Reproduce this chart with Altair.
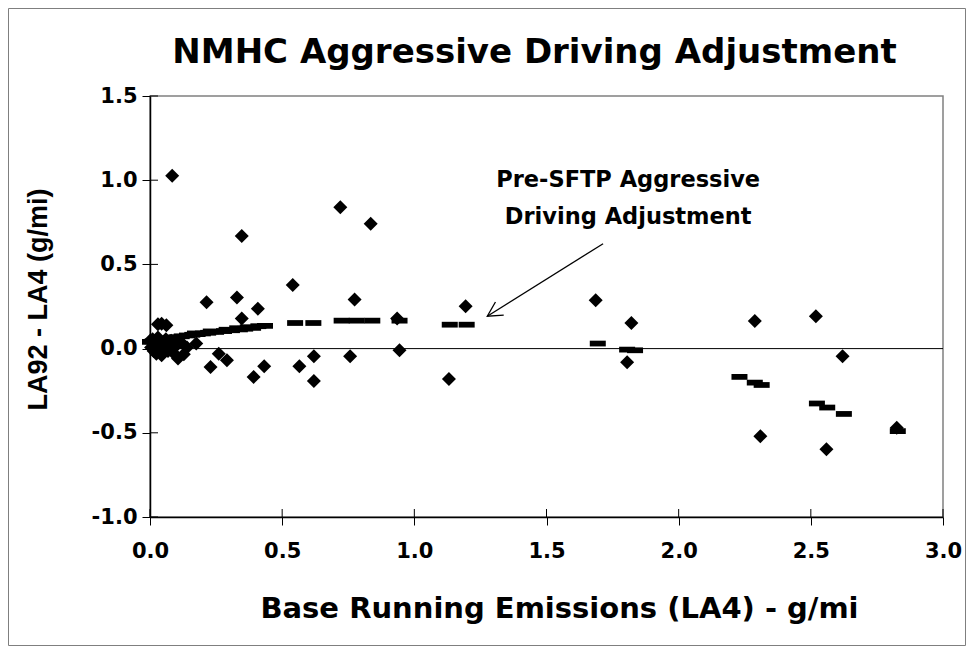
import altair as alt
import pandas as pd

# ---- data ----
# individual vehicle measurements (diamonds)
veh_x = [0.000, 0.004, 0.010, 0.014, 0.020, 0.024, 0.030, 0.034, 0.040, 0.044,
         0.050, 0.054, 0.060, 0.068, 0.074, 0.080, 0.088, 0.098, 0.106, 0.118,
         0.128, 0.140, 0.030, 0.044, 0.062,
         0.084, 0.347, 0.720, 0.835, 0.540, 0.214, 0.329, 0.408, 0.347, 0.774,
         0.935, 0.175, 0.260, 0.291, 0.229, 0.392, 0.432, 0.565, 0.620, 0.620,
         0.757, 0.944, 1.194, 1.131, 1.686, 1.821, 1.805, 2.288, 2.519, 2.620,
         2.309, 2.559, 2.825]
veh_y = [0.046, 0.006, 0.056, -0.014, 0.026, -0.030, 0.066, 0.016, -0.004, -0.040,
         0.036, 0.006, 0.056, -0.014, 0.026, 0.046, -0.024, 0.016, -0.059, 0.036,
         -0.034, 0.006, 0.144, 0.148, 0.138,
         1.026, 0.668, 0.840, 0.741, 0.378, 0.275, 0.303, 0.237, 0.178, 0.291,
         0.178, 0.030, -0.030, -0.069, -0.109, -0.168, -0.105, -0.105, -0.046, -0.192,
         -0.046, -0.010, 0.251, -0.180, 0.287, 0.152, -0.081, 0.164, 0.192, -0.046,
         -0.520, -0.597, -0.470]

# Pre-SFTP aggressive driving adjustment (dashes)
adj_x = [0.000, 0.010, 0.020, 0.030, 0.040, 0.050, 0.060, 0.080, 0.100, 0.120,
         0.140, 0.160, 0.170, 0.180, 0.200, 0.220, 0.230, 0.250, 0.280, 0.290,
         0.310, 0.330, 0.340, 0.360, 0.370, 0.390, 0.410, 0.435,
         0.549, 0.618, 0.725, 0.782, 0.841, 0.944, 1.134, 1.198,
         1.694, 1.805, 1.835, 2.230, 2.288, 2.314, 2.523, 2.562, 2.625, 2.829]
adj_y = [0.040, 0.043, 0.046, 0.049, 0.052, 0.055, 0.058, 0.063, 0.068, 0.073,
         0.078, 0.082, 0.090, 0.086, 0.090, 0.094, 0.102, 0.099, 0.104, 0.112,
         0.109, 0.121, 0.114, 0.118, 0.127, 0.123, 0.133, 0.135,
         0.152, 0.152, 0.166, 0.166, 0.166, 0.166, 0.142, 0.142,
         0.030, -0.006, -0.010, -0.168, -0.202, -0.216, -0.326, -0.350, -0.388, -0.490]

x_ticks = [0.0, 0.5, 1.0, 1.5, 2.0, 2.5, 3.0]
y_ticks = [-1.0, -0.5, 0.0, 0.5, 1.0, 1.5]

title_text = "NMHC Aggressive Driving Adjustment"
x_title = "Base Running Emissions (LA4) - g/mi"
y_title = "LA92 - LA4 (g/mi)"
note_lines = ["Pre-SFTP Aggressive", "Driving Adjustment"]
note_x = [1.809, 1.809]
note_y = [0.958, 0.741]
arrow = {"x": [1.714], "y": [0.623], "x2": [1.276], "y2": [0.192]}

# ---- chart ----
W, H = 793, 421
PAD = {"left": 142, "top": 88, "right": 23, "bottom": 129}
BIG = "DejaVu Sans"

x_scale = alt.Scale(domain=[0, 3], nice=False, zero=False)
y_scale = alt.Scale(domain=[-1, 1.5], nice=False, zero=False)
lab_expr = "(datum.value < 0 ? '-' : '') + format(abs(datum.value), '.1f')"

x_axis = alt.Axis(values=x_ticks, labelExpr=lab_expr, grid=False,
                  domainColor="black", domainWidth=1.5, tickColor="black",
                  tickWidth=1, tickSize=8, labelFont=BIG, labelFontSize=21,
                  labelFontWeight="bold", labelColor="black", labelPadding=15,
                  labelFlush=False, labelOverlap=False,
                  title=x_title, titleFont=BIG, titleFontSize=29,
                  titleFontWeight="bold", titleColor="black", titleX=409,
                  titleY=100, titleAlign="center", titleBaseline="alphabetic")
y_axis = alt.Axis(values=y_ticks, labelExpr=lab_expr, grid=False,
                  domainColor="black", domainWidth=1.5, tickColor="black",
                  tickWidth=1, tickSize=8, labelFont=BIG, labelFontSize=21,
                  labelFontWeight="bold", labelColor="black", labelPadding=5,
                  labelFlush=False, labelOverlap=False,
                  title=y_title, titleFont="Liberation Sans", titleFontSize=27,
                  titleFontWeight="bold", titleColor="black", titleAngle=270,
                  titleX=-104, titleY=203, titleAlign="center",
                  titleBaseline="alphabetic")


def X(field="x"):
    return alt.X(f"{field}:Q", scale=x_scale, axis=x_axis)


def Y(field="y"):
    return alt.Y(f"{field}:Q", scale=y_scale, axis=y_axis)


veh = pd.DataFrame({"x": veh_x, "y": veh_y})
adj = pd.DataFrame({"x": adj_x, "y": adj_y})
xt = pd.DataFrame({"x": x_ticks})
yt = pd.DataFrame({"y": y_ticks})
notes = pd.DataFrame({"x": note_x, "y": note_y, "t": note_lines})
arr = pd.DataFrame(arrow)
one = pd.DataFrame({"k": [0]})
ttl = pd.DataFrame({"t": [title_text]})
zero = pd.DataFrame({"y": [0.0]})

border = alt.Chart(one).mark_rect(fillOpacity=0, stroke="#7f7f7f", strokeWidth=1).encode(
    x=alt.value(-PAD["left"] + 0.5), x2=alt.value(W + PAD["right"] - 0.5),
    y=alt.value(-PAD["top"] + 0.5), y2=alt.value(H + PAD["bottom"] - 0.5))

title_mark = alt.Chart(ttl).mark_text(font=BIG, fontSize=34, fontWeight="bold",
                                      color="black", align="center",
                                      baseline="alphabetic").encode(
    x=alt.value(384.5), y=alt.value(-33), text="t:N")

zero_line = alt.Chart(zero).mark_rule(color="black", strokeWidth=1).encode(y=Y())

x_inner = alt.Chart(xt).mark_rule(color="black", strokeWidth=1).encode(
    x=X(), y=alt.value(H - 8), y2=alt.value(H))
y_inner = alt.Chart(yt).mark_rule(color="black", strokeWidth=1).encode(
    y=Y(), x=alt.value(0), x2=alt.value(8))

diamonds = alt.Chart(veh).mark_point(shape="diamond", filled=True, color="black",
                                     size=196, opacity=1).encode(x=X(), y=Y())

dash_path = "M-1,-0.36L1,-0.36L1,0.36L-1,0.36Z"
dashes = alt.Chart(adj).mark_point(shape=dash_path, filled=True, color="black",
                                   size=256, opacity=1).encode(x=X(), y=Y())

note = alt.Chart(notes).mark_text(font=BIG, fontSize=22.5, fontWeight="bold",
                                  color="black", align="center",
                                  baseline="alphabetic").encode(
    x=X(), y=Y(), text="t:N")

arrow_line = alt.Chart(arr).mark_rule(color="black", strokeWidth=1.3).encode(
    x=X(), y=Y(), x2="x2:Q", y2="y2:Q")
arrow_head = alt.Chart(arr).mark_point(
    shape="M-0.47,-0.88L0,0L0.47,-0.88", filled=False, color="black",
    strokeWidth=1.3, size=1089, angle=57.8, opacity=1).encode(
    x=X("x2"), y=Y("y2"))

chart = alt.layer(border, title_mark, zero_line, x_inner, y_inner, diamonds,
                  dashes, note, arrow_line, arrow_head).properties(
    width=W, height=H,
    autosize=alt.AutoSizeParams(type="none"),
    padding=PAD,
    background="white",
).configure_view(stroke="#808080", strokeWidth=1.5)

chart.save("out.html", embed_options={"renderer": "svg", "actions": False})
